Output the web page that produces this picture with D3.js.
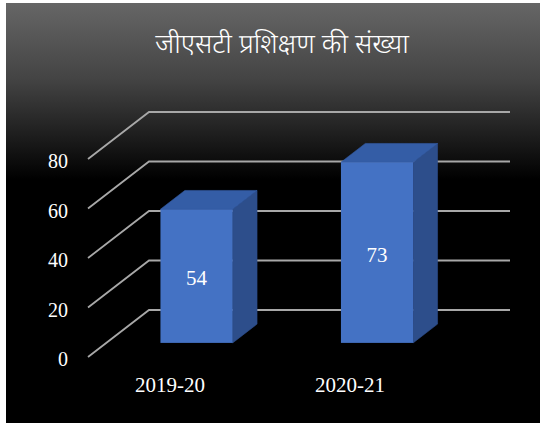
<!DOCTYPE html>
<html>
<head>
<meta charset="utf-8">
<script src="https://cdn.jsdelivr.net/npm/d3@7"></script>
<style>
  body { margin: 0; background: #fff; }
  svg { display: block; }
  .serif { font-family: "Liberation Serif", "DejaVu Serif", serif; }
</style>
</head>
<body>
<script>
// chart data
const title = "जीएसटी प्रशिक्षण की संख्या";
const categories = ["2019-20", "2020-21"];
const values = [54, 73];
const yTicks = [0, 20, 40, 60, 80];

const width = 540;
const height = 423;

// floor front-left corner and the depth vector of the 3d box
const floorX = 88, floorW = 361;
const depth = [61, -47];
const barDepth = [0.3, 0.7];

const svg = d3.select("body").append("svg")
    .attr("width", width)
    .attr("height", height);

const defs = svg.append("defs");
const grad = defs.append("linearGradient")
    .attr("id", "bg")
    .attr("x1", 0).attr("y1", 0)
    .attr("x2", 0).attr("y2", 1);
grad.append("stop").attr("offset", "0%").attr("stop-color", "#666");
grad.append("stop").attr("offset", "18%").attr("stop-color", "#444");
grad.append("stop").attr("offset", "42%").attr("stop-color", "#000");
grad.append("stop").attr("offset", "100%").attr("stop-color", "#000");

svg.append("rect")
    .attr("x", 6).attr("y", 3)
    .attr("width", width - 6).attr("height", height - 3)
    .attr("fill", "url(#bg)");

// scales (front plane)
const y = d3.scaleLinear().domain([0, 80]).range([357, 159]);
const x = d3.scaleBand()
    .domain(categories)
    .range([floorX, floorX + floorW])
    .paddingInner(0.6)
    .paddingOuter(0.3);
const xLabel = d3.scaleBand()
    .domain(categories)
    .range([80, 440]);

const off = t => [depth[0] * t, depth[1] * t];

// gridlines: diagonal on the left wall + horizontal on the back wall
const grid = svg.append("g")
    .attr("stroke", "#a8a8a8")
    .attr("stroke-width", 1.8)
    .attr("fill", "none");

grid.selectAll("path")
  .data(yTicks)
  .join("path")
    .attr("d", d => {
      const x0 = floorX, y0 = y(d);
      const x1 = x0 + depth[0], y1 = y0 + depth[1];
      const x2 = floorX + floorW + depth[0];
      return `M${x0},${y0}L${x1},${y1}L${x2},${y1}`;
    });

// tick labels
svg.append("g")
    .attr("class", "serif")
    .attr("font-size", 20)
    .attr("fill", "#fff")
    .attr("text-anchor", "end")
  .selectAll("text")
  .data(yTicks)
  .join("text")
    .attr("x", 68)
    .attr("y", d => y(d) + 9)
    .text(d => d);

// bars
const bars = svg.append("g")
  .selectAll("g")
  .data(categories.map((c, i) => ({cat: c, value: values[i]})))
  .join("g");

const [f, b] = [off(barDepth[0]), off(barDepth[1])];

// side face
bars.append("path")
    .attr("fill", "#2D4E8B")
    .attr("stroke", "#2D4E8B")
    .attr("stroke-width", 0.6)
    .attr("d", d => {
      const xr = x(d.cat) + x.bandwidth();
      const yt = y(d.value), yb = y(0);
      return `M${xr + f[0]},${yb + f[1]}L${xr + b[0]},${yb + b[1]}L${xr + b[0]},${yt + b[1]}L${xr + f[0]},${yt + f[1]}Z`;
    });

// top face
bars.append("path")
    .attr("fill", "#345DA6")
    .attr("stroke", "#345DA6")
    .attr("stroke-width", 0.6)
    .attr("d", d => {
      const xl = x(d.cat), xr = xl + x.bandwidth();
      const yt = y(d.value);
      return `M${xl + f[0]},${yt + f[1]}L${xl + b[0]},${yt + b[1]}L${xr + b[0]},${yt + b[1]}L${xr + f[0]},${yt + f[1]}Z`;
    });

// front face
bars.append("rect")
    .attr("fill", "#4472C4")
    .attr("x", d => x(d.cat) + f[0])
    .attr("y", d => y(d.value) + f[1])
    .attr("width", x.bandwidth())
    .attr("height", d => y(0) - y(d.value));

// value labels
bars.append("text")
    .attr("class", "serif")
    .attr("font-size", 21)
    .attr("fill", "#fff")
    .attr("text-anchor", "middle")
    .attr("x", d => x(d.cat) + f[0] + x.bandwidth() / 2)
    .attr("y", d => (y(d.value) + y(0)) / 2 + f[1] + 9)
    .text(d => d.value);

// category labels
svg.append("g")
    .attr("class", "serif")
    .attr("font-size", 21)
    .attr("fill", "#fff")
    .attr("text-anchor", "middle")
  .selectAll("text")
  .data(categories)
  .join("text")
    .attr("x", d => xLabel(d) + xLabel.bandwidth() / 2)
    .attr("y", 392)
    .text(d => d);

// title
svg.append("text")
    .attr("x", 282)
    .attr("y", 53)
    .attr("text-anchor", "middle")
    .attr("font-family", "'Noto Sans Devanagari', 'Nirmala UI', 'Mangal', sans-serif")
    .attr("font-size", 27)
    .attr("font-weight", 300)
    .attr("fill", "#fff")
    .text(title);
</script>
</body>
</html>
